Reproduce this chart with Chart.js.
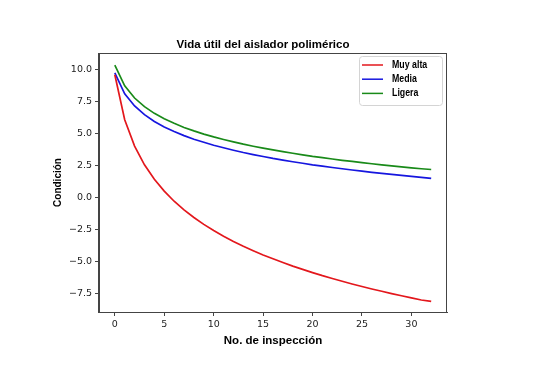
<!DOCTYPE html>
<html>
<head>
<meta charset="utf-8">
<script src="https://cdn.jsdelivr.net/npm/chart.js@4.4.1/dist/chart.umd.min.js"></script>
<style>
  html, body { margin: 0; padding: 0; background: #fff; }
  #wrap { width: 538px; height: 380px; }
</style>
</head>
<body>
<div id="wrap"><canvas id="myChart"></canvas></div>
<script>
// numero de inspeccion
let inspecciones = [0, 1, 2, 3, 4, 5, 6, 7, 8, 9, 10, 11, 12, 13, 14, 15, 16,
  17, 18, 19, 20, 21, 22, 23, 24, 25, 26, 27, 28, 29, 30, 31, 32];

let muyAlta = [9.6, 6.08, 4.02, 2.56, 1.43, 0.5, -0.29, -0.96, -1.56, -2.1, -2.58,
  -3.02, -3.43, -3.81, -4.16, -4.49, -4.79, -5.08, -5.36, -5.62, -5.87, -6.11,
  -6.33, -6.55, -6.76, -6.96, -7.15, -7.33, -7.51, -7.68, -7.85, -8.01, -8.12];

let media = [9.75, 8.11, 7.16, 6.48, 5.95, 5.52, 5.16, 4.84, 4.56, 4.32, 4.09,
  3.89, 3.7, 3.52, 3.36, 3.21, 3.06, 2.93, 2.8, 2.68, 2.56, 2.46, 2.35, 2.25,
  2.15, 2.06, 1.97, 1.89, 1.81, 1.73, 1.66, 1.58, 1.5];

let ligera = [10.35, 8.73, 7.78, 7.11, 6.58, 6.16, 5.8, 5.48, 5.21, 4.96, 4.74,
  4.54, 4.35, 4.17, 4.01, 3.86, 3.72, 3.59, 3.46, 3.34, 3.22, 3.12, 3.01, 2.91,
  2.82, 2.73, 2.64, 2.56, 2.48, 2.4, 2.32, 2.25, 2.19];

let xTicks = [0, 5, 10, 15, 20, 25, 30];
let yTicks = [-7.5, -5, -2.5, 0, 2.5, 5, 7.5, 10];

function pts(arr) {
    return arr.map(function (v, i) { return { x: inspecciones[i], y: v }; });
}

// marco de los ejes (arriba y derecha)
const frame = {
    id: 'frame',
    afterDatasetsDraw(chart) {
        const a = chart.chartArea;
        const ctx = chart.ctx;
        ctx.save();
        ctx.strokeStyle = '#444';
        ctx.lineWidth = 1;
        ctx.strokeRect(Math.round(a.left) - 0.5, Math.round(a.top) + 0.5,
            Math.round(a.right - a.left), Math.round(a.bottom - a.top));
        ctx.restore();
    }
};

// leyenda dentro del area, arriba a la derecha
const boxLegend = {
    id: 'boxLegend',
    afterDatasetsDraw(chart) {
        const a = chart.chartArea;
        const ctx = chart.ctx;
        const w = 83, h = 49;
        const x0 = a.right - 5 - w, y0 = a.top + 3;
        ctx.save();
        ctx.fillStyle = 'rgba(255,255,255,0.85)';
        ctx.strokeStyle = '#d4d4d4';
        ctx.lineWidth = 1;
        ctx.beginPath();
        ctx.roundRect(x0 + 0.5, y0 + 0.5, w, h, 3);
        ctx.fill();
        ctx.stroke();
        ctx.font = 'bold 11px "Liberation Sans", Arial, sans-serif';
        ctx.textBaseline = 'middle';
        chart.data.datasets.forEach(function (ds, i) {
            const y = y0 + 9 + i * 14.2;
            ctx.strokeStyle = ds.borderColor;
            ctx.lineWidth = 1.5;
            ctx.beginPath();
            ctx.moveTo(x0 + 3, y);
            ctx.lineTo(x0 + 24, y);
            ctx.stroke();
            ctx.fillStyle = '#000';
            // texto un poco estrecho como en la imagen
            ctx.save();
            ctx.translate(x0 + 33, y);
            ctx.scale(0.8, 1);
            ctx.fillText(ds.label, 0, 0);
            ctx.restore();
        });
        ctx.restore();
    }
};

const data = {
    datasets: [
        { label: 'Muy alta', data: pts(muyAlta), borderColor: '#e3171c' },
        { label: 'Media', data: pts(media), borderColor: '#1616df' },
        { label: 'Ligera', data: pts(ligera), borderColor: '#198a19' }
    ]
};

const tickFont = { family: '"DejaVu Sans", sans-serif', size: 9.5 };
const labelFamily = '"Liberation Sans", Arial, sans-serif';

const config = {
    type: 'line',
    data: data,
    options: {
        responsive: true,
        maintainAspectRatio: false,
        animation: false,
        layout: { padding: { left: 0, right: 12, top: 0, bottom: 0 } },
        elements: {
            line: { borderWidth: 1.7, tension: 0, fill: false },
            point: { radius: 0 }
        },
        plugins: {
            legend: { display: false },
            tooltip: { enabled: false },
            title: {
                display: true,
                text: 'Vida útil del aislador polimérico',
                color: '#000',
                font: { family: labelFamily, size: 11.5, weight: 'bold', lineHeight: 1.2 },
                padding: { top: 38, bottom: 1.2 }
            }
        },
        scales: {
            x: {
                type: 'linear',
                min: -1.6,
                max: 33.6,
                afterFit(scale) { scale.height = 68; },
                afterBuildTicks(scale) { scale.ticks = xTicks.map(function (v) { return { value: v }; }); },
                ticks: { color: '#222', font: tickFont, padding: 3, maxRotation: 0, callback: function (v) { return String(v); } },
                grid: { display: true, drawOnChartArea: false, drawTicks: true, tickLength: 4, color: '#444' },
                border: { display: true, color: '#444' },
                title: { display: true, text: 'No. de inspección', color: '#000',
                    font: { family: labelFamily, size: 11.5, weight: 'bold', lineHeight: 1.2 },
                    padding: { top: 0, bottom: 32 } }
            },
            y: {
                type: 'linear',
                min: -8.95,
                max: 11.3,
                afterFit(scale) { scale.width = 99; },
                afterBuildTicks(scale) { scale.ticks = yTicks.map(function (v) { return { value: v }; }); },
                ticks: { color: '#222', font: tickFont, padding: 3, callback: function (v) { return v.toFixed(1).replace('-', '\u2212'); } },
                grid: { display: true, drawOnChartArea: false, drawTicks: true, tickLength: 4, color: '#444' },
                border: { display: true, color: '#444' },
                title: { display: true, text: 'Condición', color: '#000',
                    font: { family: labelFamily, size: 10, weight: 'bold', lineHeight: 1.2 },
                    padding: { top: 52, bottom: 0 } }
            },
            // eje vacio a la derecha: solo reserva el margen blanco
            y2: {
                type: 'linear',
                position: 'right',
                afterFit(scale) { scale.width = 79; },
                ticks: { display: false },
                grid: { display: false },
                border: { display: false }
            }
        }
    },
    plugins: [frame, boxLegend]
};

let myChart = new Chart(document.getElementById('myChart'), config);
</script>
</body>
</html>
